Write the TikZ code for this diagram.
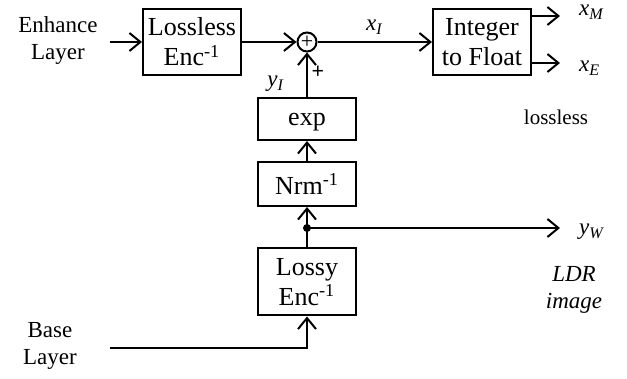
\documentclass[tikz,border=0pt]{standalone}
\usepackage{fontspec}
\setmainfont{Liberation Serif}
\usetikzlibrary{arrows.meta}

\newcommand{\vsub}[2]{\textit{#1}\textsubscript{\textit{#2}}}
\newcommand{\inv}{\textsuperscript{-1}}

\begin{document}
\begin{tikzpicture}[x=0.5pt, y=-0.5pt,
    blk/.style={draw, line width=1pt, minimum width=49pt, minimum height=#1, inner sep=1pt,
                align=center, font=\fontsize{13}{15}\selectfont},
    blk/.default=33pt,
    lbl/.style={align=center, font=\fontsize{11.5}{13.5}\selectfont},
    sig/.style={font=\fontsize{11.5}{13.5}\selectfont},
    arr/.style={-{Straight Barb[length=5.5pt, width=9pt, line width=1pt]}, line width=1pt},
    ln/.style={line width=1pt}]
    \useasboundingbox (0,0) rectangle (627,379);

    % enhancement layer path
    \node[lbl] (enh) at (58,41) {Enhance\\Layer};
    \coordinate (enhin) at (110,42);
    \node[blk] (lenc) at (192,42) {Lossless\\Enc\inv};
    \node[draw, circle, line width=1pt, minimum size=9.5pt, inner sep=0pt,
          font=\fontsize{11}{11}\selectfont] (sum) at (307,42) {+};
    \node[blk] (itf) at (482,42) {Integer\\to Float};

    \draw[arr] (enhin) -- (lenc.west);
    \draw[arr] (lenc.east) -- (sum.west);
    \draw[arr] (sum.east) -- (itf.west) node[sig, pos=0.5, above] {\vsub{x}{I}};

    % outputs
    \coordinate (xM) at (560,16);
    \coordinate (xE) at (560,63);
    \draw[arr] (itf.east |- xM) -- (xM);
    \draw[arr] (itf.east |- xE) -- (xE);
    \node[sig, right] (xMl) at (572,12) {\vsub{x}{M}};
    \node[sig, right] (xEl) at (572,68) {\vsub{x}{E}};
    \node[font=\fontsize{10.5}{12}\selectfont] (lossless) at (556,117) {lossless};

    % base layer path
    \node[blk=21pt, text depth=0pt] (expb) at (307,119) {exp};
    \node[blk=22pt] (nrm) at (307,184) {Nrm\inv};
    \node[blk=33.5pt] (lossy) at (307,282) {Lossy\\Enc\inv};
    \node[lbl] (base) at (50,346) {Base\\Layer};
    \coordinate (basein) at (110,348);
    \coordinate (split) at (307,228);
    \coordinate (yW) at (560,228);

    \draw[arr] (expb.north) -- (sum.south);
    \node[sig] (yI) at (276,84) {\vsub{y}{I}};
    \node[font=\fontsize{11}{11}\selectfont\bfseries] (plus) at (318,72) {+};
    \draw[arr] (nrm.north) -- (expb.south);
    \draw[arr] (split) -- (nrm.south);
    \draw[ln] (lossy.north) -- (split);
    \fill (split) circle (2pt);
    \draw[arr] (split) -- (yW);
    \node[sig, right] (yWl) at (572,232) {\vsub{y}{W}};
    \draw[arr] (basein) -| (lossy.south);

    \node[lbl, font=\fontsize{11.5}{13.5}\selectfont\itshape] (ldr) at (574,290) {LDR\\image};
\end{tikzpicture}
\end{document}
